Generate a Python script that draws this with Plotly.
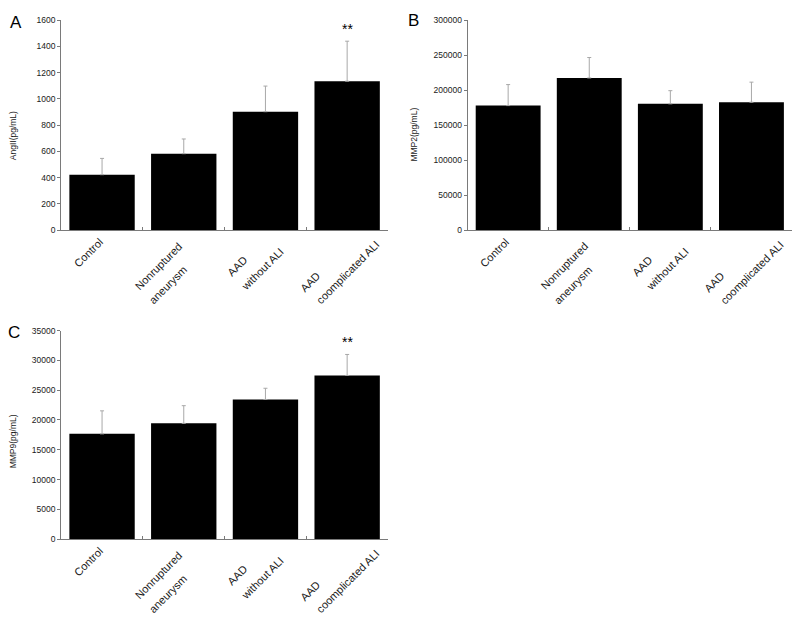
import plotly.graph_objects as go

# ---- data ----
categories = ["Control", "Nonruptured aneurysm", "AAD without ALI", "AAD coomplicated ALI"]
label_lines = [["Control"], ["Nonruptured", "aneurysm"], ["AAD", "without ALI"], ["AAD", "coomplicated ALI"]]

angII_mean = [423, 583, 903, 1135]
angII_sd = [124, 112, 195, 305]

mmp2_mean = [178000, 217500, 180500, 182800]
mmp2_sd = [30000, 29200, 18800, 28700]

mmp9_mean = [17670, 19430, 23440, 27470]
mmp9_sd = [3860, 2970, 1880, 3520]

y_titles = ["AngII(pg/mL)", "MMP2(pg/mL)", "MMP9(pg/mL)"]
panel_letters = ["A", "B", "C"]
y_ranges = [[0, 1600], [0, 300000], [0, 35000]]
y_dticks = [200, 50000, 5000]
significance = [["", "", "", "**"], ["", "", "", ""], ["", "", "", "**"]]

# ---- style ----
FONT = "Liberation Sans, Arial, sans-serif"
AXIS_COLOR = "#7a7a7a"
ERR_COLOR = "#a8a8a8"
TXT = "#1a1a1a"

# the page body adds an 8px offset, domains compensate for it
x_domains = [[0.0665, 0.475], [0.5745, 0.98], [0.0665, 0.475]]
y_domains = [[0.6497, 0.9884], [0.6497, 0.9884], [0.1513, 0.4878]]

# offsets (px) of each label line center relative to the category tick / x axis
line_offsets = [
    [(-14, -23)],
    [(-25, -36), (-16, -55)],
    [(-28, -36), (-3, -39)],
    [(-37, -52), (1, -42)],
]

fig = go.Figure()
means = [angII_mean, mmp2_mean, mmp9_mean]
sds = [angII_sd, mmp2_sd, mmp9_sd]

annotations = []
for i in range(3):
    sfx = "" if i == 0 else str(i + 1)
    fig.add_trace(go.Bar(
        x=categories, y=means[i],
        marker=dict(color="black", line=dict(color="black", width=0)),
        error_y=dict(type="data", array=sds[i], arrayminus=[0] * 4, symmetric=False,
                     color=ERR_COLOR, thickness=1, width=2),
        xaxis="x" + sfx, yaxis="y" + sfx, showlegend=False,
    ))
    fig.update_layout(**{
        "xaxis" + sfx: dict(
            domain=x_domains[i], anchor="y" + sfx, type="category",
            range=[-0.5, 3.5], showline=True, linecolor=AXIS_COLOR, linewidth=1,
            ticks="inside", tickson="boundaries", ticklen=3, tickcolor=AXIS_COLOR,
            showticklabels=False, showgrid=False, zeroline=False,
        ),
        "yaxis" + sfx: dict(
            domain=y_domains[i], anchor="x" + sfx, range=y_ranges[i], dtick=y_dticks[i],
            tickformat="d",
            showline=True, linecolor=AXIS_COLOR, linewidth=1,
            ticks="outside", ticklen=3, tickcolor=AXIS_COLOR,
            tickfont=dict(family=FONT, size=8.5, color=TXT),
            showgrid=False, zeroline=False,
        ),
    })
    for c, cat in enumerate(categories):
        for (dx, dy), txt in zip(line_offsets[c], label_lines[c]):
            annotations.append(dict(
                x=cat, y=0, xref="x" + sfx, yref="y" + sfx,
                text=txt, showarrow=False, textangle=-45,
                xanchor="center", yanchor="middle", xshift=dx, yshift=dy,
                font=dict(family=FONT, size=11, color=TXT),
            ))
        if significance[i][c]:
            annotations.append(dict(
                x=cat, y=means[i][c] + sds[i][c], xref="x" + sfx, yref="y" + sfx,
                text=significance[i][c], showarrow=False,
                xanchor="center", yanchor="middle", yshift=12,
                font=dict(family=FONT, size=14, color="black"),
            ))

title_pos = [(0.0065, 0.8016), (0.507, 0.8032), (0.0065, 0.3095)]
for (tx, ty), t in zip(title_pos, y_titles):
    annotations.append(dict(
        x=tx, y=ty, xref="paper", yref="paper", text=t, showarrow=False,
        textangle=-90, xanchor="center", yanchor="middle",
        font=dict(family=FONT, size=8.5, color=TXT),
    ))

letter_pos = [(0.01, 0.984), (0.507, 0.988), (0.008, 0.484)]
for (lx, ly), t in zip(letter_pos, panel_letters):
    annotations.append(dict(
        x=lx, y=ly, xref="paper", yref="paper", text=t, showarrow=False,
        xanchor="center", yanchor="middle",
        font=dict(family=FONT, size=17, color="black"),
    ))

fig.update_layout(
    width=800, height=630,
    margin=dict(l=0, r=0, t=0, b=0),
    paper_bgcolor="white", plot_bgcolor="white",
    bargap=0.2,
    annotations=annotations,
    font=dict(family=FONT),
)

fig.write_html("out.html")
